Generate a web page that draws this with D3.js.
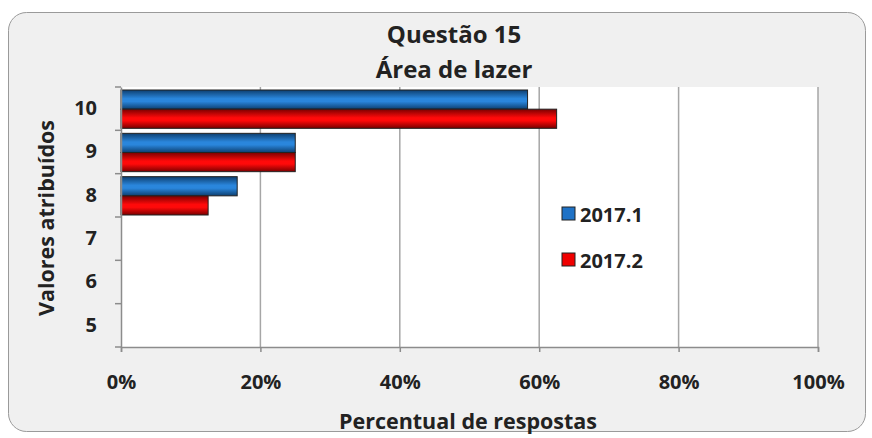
<!DOCTYPE html>
<html>
<head>
<meta charset="utf-8">
<script src="https://cdn.jsdelivr.net/npm/d3@7"></script>
<style>
  body { margin: 0; background: #fff; }
  svg { display: block; font-family: "Open Sans", Lato, sans-serif; }
</style>
</head>
<body>
<div id="chart"></div>
<script>
// data
const categories = ["10", "9", "8", "7", "6", "5"];
const seriesNames = ["2017.1", "2017.2"];
const values2017_1 = [58.33, 25, 16.67, 0, 0, 0];
const values2017_2 = [62.5, 25, 12.5, 0, 0, 0];
const xTicks = [0, 20, 40, 60, 80, 100];

const W = 872, H = 438;
const margin = { top: 87, right: 54, bottom: 91, left: 121 },
    width = W - margin.left - margin.right,
    height = H - margin.top - margin.bottom;
const FONT = '"Open Sans", Lato, sans-serif';

const svg = d3.select("#chart")
    .append("svg")
    .attr("width", W)
    .attr("height", H);

// gradients for the bevelled bars
const defs = svg.append("defs");
function grad(id, edge, mid) {
    const g = defs.append("linearGradient").attr("id", id)
        .attr("x1", 0).attr("y1", 0).attr("x2", 0).attr("y2", 1);
    g.append("stop").attr("offset", "0%").attr("stop-color", edge);
    g.append("stop").attr("offset", "45%").attr("stop-color", mid);
    g.append("stop").attr("offset", "60%").attr("stop-color", mid);
    g.append("stop").attr("offset", "100%").attr("stop-color", edge);
}
grad("gBlue", "#0d3f70", "#2a86dc");
grad("gRed", "#7a0000", "#ff0a0a");

// outer panel
svg.append("rect")
    .attr("x", 8.5).attr("y", 12.5)
    .attr("width", 857).attr("height", 419)
    .attr("rx", 18)
    .attr("fill", "#f0f0f0")
    .attr("stroke", "#9a9a9a");

const g = svg.append("g")
    .attr("transform", `translate(${margin.left},${margin.top})`);

g.append("rect")
    .attr("width", width).attr("height", height)
    .attr("fill", "#fff");

const xScale = d3.scaleLinear().domain([0, 100]).range([0, width]);
const yScale = d3.scaleBand().domain(categories).range([0, height]);
const inner = d3.scaleBand().domain(seriesNames).range([3, yScale.bandwidth() - 2]);
const cScale = d3.scaleOrdinal().domain(seriesNames).range(["url(#gBlue)", "url(#gRed)"]);
const legendColor = d3.scaleOrdinal().domain(seriesNames).range(["#1f72c6", "#f00000"]);

// gridlines
g.append("g")
    .selectAll("line")
    .data(xTicks.slice(1))
    .join("line")
    .attr("x1", d => xScale(d)).attr("x2", d => xScale(d))
    .attr("y1", 0).attr("y2", height)
    .attr("stroke", "#a6a6a6")
    .attr("stroke-width", 1.5);

// bars
const rows = categories.map((c, i) => ({ cat: c, "2017.1": values2017_1[i], "2017.2": values2017_2[i] }));
const group = g.selectAll("g.row")
    .data(rows)
    .join("g")
    .attr("class", "row")
    .attr("transform", d => `translate(0,${yScale(d.cat)})`);

group.selectAll("rect")
    .data(d => seriesNames.map(s => ({ key: s, value: d[s] })).filter(d => d.value > 0))
    .join("rect")
    .attr("x", 0)
    .attr("y", d => inner(d.key))
    .attr("width", d => xScale(d.value))
    .attr("height", inner.bandwidth())
    .attr("fill", d => cScale(d.key))
    .attr("stroke", "#222")
    .attr("stroke-width", 1);

// axes
const xAxis = d3.axisBottom(xScale).tickValues(xTicks).tickFormat(d => d + "%").tickSize(5).tickPadding(23);
const yAxis = d3.axisLeft(yScale).tickSize(0).tickPadding(24);

const gx = g.append("g")
    .attr("transform", `translate(0,${height})`)
    .call(xAxis)
    .attr("font-family", FONT);
gx.select(".domain").attr("stroke", "#8c8c8c").attr("stroke-width", 1.5);
gx.selectAll(".tick line").attr("stroke", "#8c8c8c").attr("stroke-width", 1.5);
gx.selectAll("text").attr("font-size", 20).attr("font-weight", "bold").attr("fill", "#222");

const gy = g.append("g").call(yAxis).attr("font-family", FONT);
gy.select(".domain").attr("stroke", "#8c8c8c").attr("stroke-width", 1.5);
gy.selectAll("text").attr("font-size", 20).attr("font-weight", "bold").attr("fill", "#222");

// y ticks at band boundaries
g.append("g")
    .selectAll("line")
    .data(d3.range(categories.length + 1))
    .join("line")
    .attr("x1", -6).attr("x2", 0)
    .attr("y1", d => d * yScale.step()).attr("y2", d => d * yScale.step())
    .attr("stroke", "#8c8c8c")
    .attr("stroke-width", 1.5);

// titles
svg.append("text")
    .attr("x", 454).attr("y", 43)
    .attr("text-anchor", "middle")
    .attr("font-size", 24).attr("font-weight", "bold").attr("fill", "#222")
    .text("Questão 15");
svg.append("text")
    .attr("x", 454).attr("y", 78)
    .attr("text-anchor", "middle")
    .attr("font-size", 24).attr("font-weight", "bold").attr("fill", "#222")
    .text("Área de lazer");

svg.append("text")
    .attr("x", 468).attr("y", 429)
    .attr("text-anchor", "middle")
    .attr("font-size", 21.5).attr("font-weight", "bold").attr("fill", "#222")
    .text("Percentual de respostas");

svg.append("text")
    .attr("transform", "translate(54,218) rotate(-90)")
    .attr("text-anchor", "middle")
    .attr("font-size", 21.5).attr("font-weight", "bold").attr("fill", "#222")
    .text("Valores atribuídos");

// legend
const legend = svg.append("g").attr("transform", "translate(562,207)");
const li = legend.selectAll("g")
    .data(seriesNames)
    .join("g")
    .attr("transform", (d, i) => `translate(0,${i * 46})`);
li.append("rect")
    .attr("width", 13).attr("height", 13)
    .attr("fill", d => legendColor(d))
    .attr("stroke", "#222");
li.append("text")
    .attr("x", 18).attr("y", 7)
    .attr("dominant-baseline", "central")
    .attr("font-size", 20).attr("font-weight", "bold").attr("fill", "#222")
    .text(d => d);
</script>
</body>
</html>
